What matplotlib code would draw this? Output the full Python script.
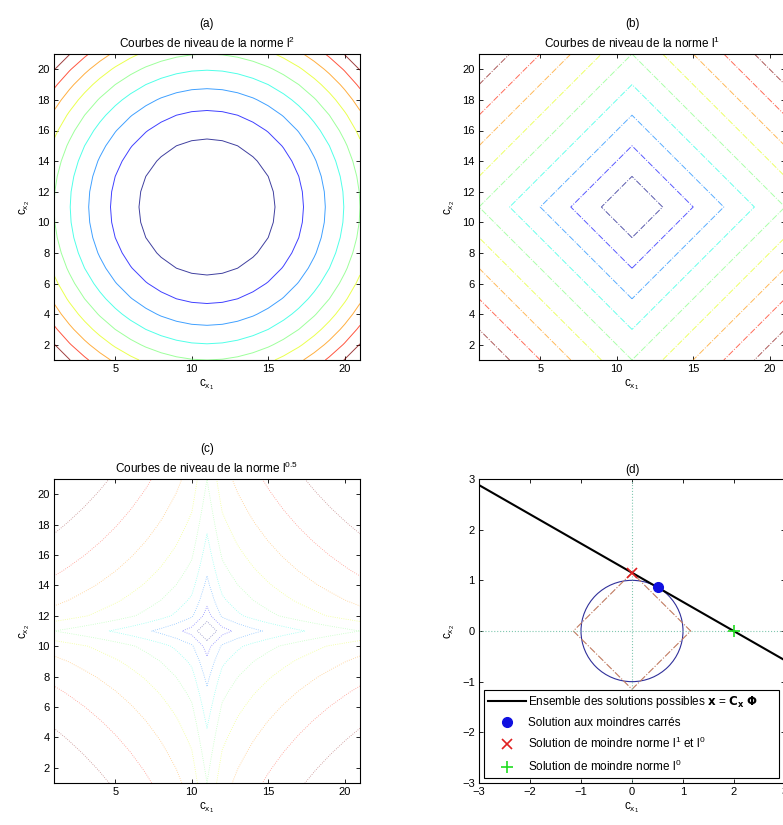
import numpy as np
import matplotlib
matplotlib.use("Agg")
import matplotlib.pyplot as plt
from matplotlib.patches import Circle, RegularPolygon

plt.rcParams["font.family"] = ["Liberation Sans", "DejaVu Sans"]
plt.rcParams["mathtext.default"] = "regular"
plt.rcParams["font.size"] = 8

# grid of coefficients (index coordinates 1..21, centre at 11)
grid = np.arange(1, 22)
centre = 11

# contour levels
levels_l2 = [20, 40, 60, 80, 100, 120, 140, 160, 180]
levels_l1 = [2, 4, 6, 8, 10, 12, 14, 16, 18]
levels_l05 = [0.63, 1.26, 1.90, 2.53, 3.16, 3.79, 4.43, 5.06, 5.69]

# panel (d)
line_x = [-3, 3]
line_y = [2.88, -0.58]
ls_point = (0.50, 0.86)
l1_point = (0.0, 1.15)
l0_point = (2.0, 0.0)
l2_radius = 1.0
l1_radius = 1.15

X, Y = np.meshgrid(grid, grid)
dx = np.abs(X - centre)
dy = np.abs(Y - centre)
Z2 = dx**2 + dy**2
Z1 = dx + dy
Z05 = np.sqrt(dx) + np.sqrt(dy)

fig = plt.figure(figsize=(7.83, 8.25), dpi=100)
W, H = 783.0, 825.0
ax_a = fig.add_axes([54/W, 1 - 360/H, 306/W, 306/H])
ax_b = fig.add_axes([479/W, 1 - 360/H, 306/W, 306/H])
ax_c = fig.add_axes([54/W, 1 - 783/H, 306/W, 304/H])
ax_d = fig.add_axes([479/W, 1 - 783/H, 306/W, 304/H])

title_kw = dict(fontsize=8.5, pad=4, linespacing=1.55)

ax_a.contour(X, Y, Z2, levels=levels_l2, cmap="jet", linewidths=0.7, alpha=0.75)
ax_a.set_title("(a)\nCourbes de niveau de la norme $l^{2}$", **title_kw)

ax_b.contour(X, Y, Z1, levels=levels_l1, cmap="jet", linewidths=0.7,
             linestyles="-.", alpha=0.65)
ax_b.set_title("(b)\nCourbes de niveau de la norme $l^{1}$", **title_kw)

ax_c.contour(X, Y, Z05, levels=levels_l05, cmap="jet", linewidths=0.6,
             linestyles=":", alpha=0.45)
ax_c.set_title("(c)\nCourbes de niveau de la norme $l^{0.5}$", **title_kw)

for ax in (ax_a, ax_b, ax_c):
    ax.set_xlim(1, 21)
    ax.set_ylim(1, 21)
    ax.set_xticks([5, 10, 15, 20])
    ax.set_yticks(range(2, 21, 2))

# panel (d)
ax_d.axhline(0, color="#80c8b0", ls=":", lw=0.8)
ax_d.axvline(0, color="#80c8b0", ls=":", lw=0.8)
ax_d.add_patch(Circle((0, 0), l2_radius, fill=False, ec="#30309a", lw=0.8))
ax_d.add_patch(RegularPolygon((0, 0), 4, radius=l1_radius, orientation=0,
                              fill=False, ec="#c07a60", lw=0.8, ls="-."))
ax_d.plot(line_x, line_y, color="k", lw=1.5,
          label=r"Ensemble des solutions possibles $\mathbf{x}$ = $\mathbf{C_x}\ \mathbf{\Phi}$")
ax_d.plot(*ls_point, "o", color="#1010e0", ms=7, ls="none",
          label="Solution aux moindres carrés")
ax_d.plot(*l1_point, "x", color="#e02020", ms=7, mew=1.2, ls="none",
          label="Solution de moindre norme $l^{1}$ et $l^{0}$")
ax_d.plot(*l0_point, "+", color="#20dd20", ms=9, mew=1.2, ls="none",
          label="Solution de moindre norme $l^{0}$")
ax_d.set_xlim(-3, 3)
ax_d.set_ylim(-3, 3)
ax_d.set_xticks(range(-3, 4))
ax_d.set_yticks(range(-3, 4))
ax_d.set_title("(d)", fontsize=8.5, pad=4)
leg = ax_d.legend(loc="lower left", bbox_to_anchor=(0.016, 0.016, 0.965, 0.3),
                  mode="expand", fancybox=False, edgecolor="k", framealpha=1,
                  handlelength=3.2, handletextpad=0.2, borderpad=0.35,
                  borderaxespad=0.0, labelspacing=0.62, fontsize=8.5)
leg.get_frame().set_linewidth(0.8)

for ax in (ax_a, ax_b, ax_c, ax_d):
    ax.tick_params(direction="in", top=True, right=True, length=3, width=0.6,
                   labelsize=8, pad=3)
    ax.set_xlabel("$c_{x_1}$", fontsize=8.5, labelpad=2)
    ax.set_ylabel("$c_{x_2}$", fontsize=8.5, labelpad=4)
    for s in ax.spines.values():
        s.set_linewidth(0.8)

fig.savefig("out.png", dpi=100)
plt.close(fig)
